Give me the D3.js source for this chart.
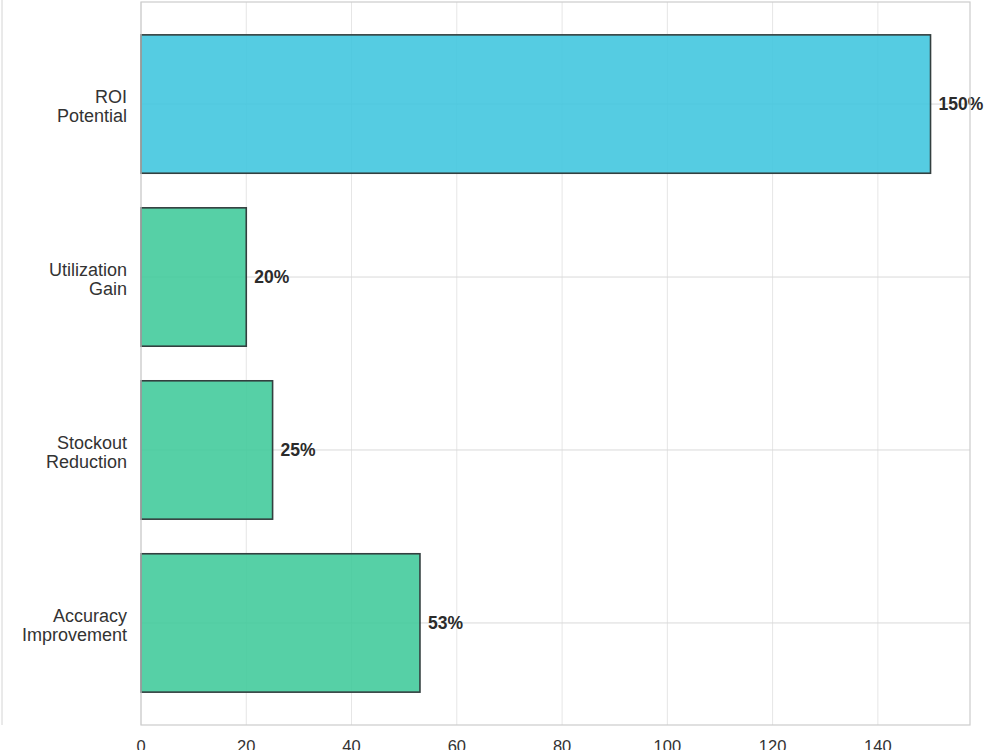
<!DOCTYPE html>
<html>
<head>
<meta charset="utf-8">
<script src="https://cdn.jsdelivr.net/npm/d3@7"></script>
<style>
  body { margin: 0; background: #fff; }
  svg { display: block; font-family: "Liberation Sans", Arial, sans-serif; }
</style>
</head>
<body>
<div id="chart"></div>
<script>
// categories top to bottom
var categories = ["ROI\nPotential", "Utilization\nGain", "Stockout\nReduction", "Accuracy\nImprovement"];
var values = [150, 20, 25, 53];
var barColors = ["#3ec5de", "#3fc99a", "#3fc99a", "#3fc99a"];
var xTicks = [0, 20, 40, 60, 80, 100, 120, 140];

var width = 1000, height = 750;
var plotLeft = 141, plotRight = 970, plotTop = 2, plotBottom = 725;

var svg = d3.select("#chart").append("svg")
  .attr("width", width)
  .attr("height", height);

var x = d3.scaleLinear().domain([0, 157.5]).range([plotLeft, plotRight]);

// y in "category units": 0 = top bar, 3 = bottom bar
var y = d3.scaleLinear().domain([-0.59, 3.59]).range([plotTop, plotBottom]);
var barH = 0.8;

// stray figure edge on the far left
svg.append("line")
  .attr("x1", 2).attr("x2", 2).attr("y1", 0).attr("y2", plotBottom)
  .attr("stroke", "#d4d4d4").attr("stroke-width", 1);

// grid
svg.append("g").selectAll("line.vg")
  .data(xTicks)
  .enter().append("line")
  .attr("x1", function(d) { return x(d); })
  .attr("x2", function(d) { return x(d); })
  .attr("y1", plotTop).attr("y2", plotBottom)
  .attr("stroke", "#e6e6e6").attr("stroke-width", 1);

svg.append("g").selectAll("line.hg")
  .data(categories)
  .enter().append("line")
  .attr("x1", plotLeft).attr("x2", plotRight)
  .attr("y1", function(d, i) { return y(i); })
  .attr("y2", function(d, i) { return y(i); })
  .attr("stroke", "#d9d9d9").attr("stroke-width", 1);

// bars
svg.append("g").selectAll("rect")
  .data(values)
  .enter().append("rect")
  .attr("x", x(0))
  .attr("y", function(d, i) { return y(i - barH / 2); })
  .attr("width", function(d) { return x(d) - x(0); })
  .attr("height", y(barH) - y(0))
  .attr("fill", function(d, i) { return barColors[i]; })
  .attr("fill-opacity", 0.88)
  .attr("stroke", "#333f3f")
  .attr("stroke-width", 1.6);

// value labels
svg.append("g").selectAll("text")
  .data(values)
  .enter().append("text")
  .attr("x", function(d) { return x(d) + 8; })
  .attr("y", function(d, i) { return y(i); })
  .attr("dy", "0.36em")
  .attr("font-size", 17.5)
  .attr("font-weight", "bold")
  .attr("fill", "#2b2b2b")
  .text(function(d) { return d + "%"; });

// spines
svg.append("rect")
  .attr("x", plotLeft).attr("y", plotTop)
  .attr("width", plotRight - plotLeft).attr("height", plotBottom - plotTop)
  .attr("fill", "none")
  .attr("stroke", "#cccccc").attr("stroke-width", 1.2);

// y tick labels (two lines each)
var yl = svg.append("g").selectAll("text")
  .data(categories)
  .enter().append("text")
  .attr("x", plotLeft - 14)
  .attr("y", function(d, i) { return y(i); })
  .attr("text-anchor", "end")
  .attr("font-size", 18)
  .attr("fill", "#333");
yl.each(function(d) {
  var lines = d.split("\n");
  var t = d3.select(this);
  lines.forEach(function(l, k) {
    t.append("tspan")
      .attr("x", plotLeft - 14)
      .attr("dy", k === 0 ? "-1" : "19")
      .text(l);
  });
});

// x tick labels (partly cut off by the bottom edge, as in the original)
svg.append("g").selectAll("text")
  .data(xTicks)
  .enter().append("text")
  .attr("x", function(d) { return x(d); })
  .attr("y", plotBottom + 27)
  .attr("text-anchor", "middle")
  .attr("font-size", 16.5)
  .attr("fill", "#333")
  .text(function(d) { return d; });
</script>
</body>
</html>
